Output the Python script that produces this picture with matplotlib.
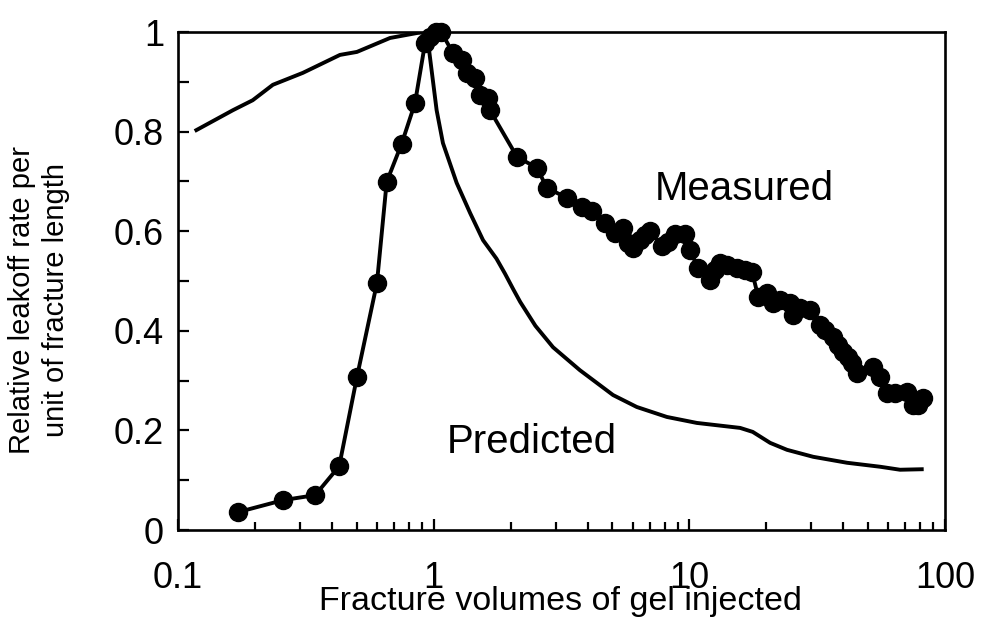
import matplotlib
matplotlib.use("Agg")
import matplotlib.pyplot as plt
from matplotlib.ticker import LogLocator, FixedLocator, NullFormatter, FixedFormatter

plt.rcParams['font.family'] = ['Liberation Sans', 'DejaVu Sans']

# Predicted curve (fracture volumes, relative leakoff rate)
pred_x = [0.118, 0.164, 0.196, 0.235, 0.308, 0.430, 0.501, 0.675, 0.861, 0.94,
          1.027, 1.087, 1.23, 1.39, 1.56, 1.76, 1.90, 2.05, 2.18, 2.5, 2.93, 3.73, 5.03,
          6.23, 8.17, 10.7, 15.8, 17.7, 20.7, 24.1, 30.5, 41.4, 55.8, 66.7, 81.1]
pred_y = [0.803, 0.843, 0.863, 0.894, 0.918, 0.954, 0.960, 0.988, 0.998, 1.0,
          0.843, 0.777, 0.697, 0.636, 0.582, 0.545, 0.515, 0.483, 0.458, 0.410, 0.367, 0.321, 0.271,
          0.247, 0.227, 0.215, 0.205, 0.197, 0.175, 0.161, 0.147, 0.135, 0.127, 0.121, 0.122]

# Measured data
meas_x = [0.172, 0.258, 0.344, 0.427, 0.501, 0.600, 0.655, 0.750, 0.845, 0.925,
          0.97, 1.02, 1.07, 1.19, 1.29, 1.35, 1.45, 1.52, 1.63, 1.66,
          2.12, 2.54, 2.77, 3.32, 3.80, 4.16, 4.68, 5.12, 5.50, 5.75, 6.03,
          6.4, 6.7, 7.02, 7.83, 8.26, 8.80, 9.62, 10.07, 10.8, 12.05, 12.6,
          13.2, 14.1, 15.4, 16.5, 17.6, 18.6, 20.1, 21.2, 22.6, 24.8, 25.4,
          27.2, 29.6, 32.4, 34.0, 36.4, 38.0, 39.9, 41.6, 43.3, 45.2, 52.2,
          55.6, 59.2, 64.0, 70.9, 74.9, 78.4, 82.0]
meas_y = [0.036, 0.060, 0.070, 0.128, 0.307, 0.496, 0.699, 0.776, 0.857, 0.977,
          0.99, 1.0, 1.0, 0.958, 0.944, 0.918, 0.908, 0.873, 0.867, 0.843,
          0.749, 0.727, 0.687, 0.667, 0.648, 0.640, 0.616, 0.596, 0.606, 0.576, 0.566,
          0.582, 0.592, 0.600, 0.570, 0.578, 0.594, 0.594, 0.562, 0.526, 0.502, 0.522,
          0.536, 0.532, 0.526, 0.522, 0.518, 0.468, 0.476, 0.456, 0.462, 0.456, 0.432,
          0.446, 0.442, 0.412, 0.402, 0.388, 0.371, 0.357, 0.347, 0.335, 0.315, 0.327,
          0.307, 0.275, 0.275, 0.277, 0.251, 0.251, 0.265]

x_ticks = [0.1, 1, 10, 100]
x_labels = ['0.1', '1', '10', '100']
y_ticks = [0, 0.2, 0.4, 0.6, 0.8, 1.0]
y_labels = ['0', '0.2', '0.4', '0.6', '0.8', '1']
y_minor = [0.1, 0.3, 0.5, 0.7, 0.9]

fig = plt.figure(figsize=(9.82, 6.19), dpi=100)
ax = fig.add_axes([178/982, 1 - 530/619, (945 - 178)/982, (530 - 32)/619])

ax.plot(pred_x, pred_y, color='black', lw=2.8, solid_joinstyle='round')
ax.plot(meas_x, meas_y, color='black', lw=2.8, marker='o', markersize=13,
        markerfacecolor='black', markeredgecolor='black', clip_on=False)

ax.set_xscale('log')
ax.set_xlim(0.1, 100)
ax.set_ylim(0, 1)

ax.xaxis.set_major_locator(FixedLocator(x_ticks))
ax.xaxis.set_major_formatter(FixedFormatter(x_labels))
ax.xaxis.set_minor_locator(LogLocator(base=10, subs=[2, 3, 4, 5, 6, 7, 8, 9]))
ax.xaxis.set_minor_formatter(NullFormatter())
ax.yaxis.set_major_locator(FixedLocator(y_ticks))
ax.yaxis.set_major_formatter(FixedFormatter(y_labels))
ax.yaxis.set_minor_locator(FixedLocator(y_minor))

ax.tick_params(axis='both', which='both', direction='in', width=1.6,
               top=False, right=False, color='black')
ax.tick_params(axis='x', which='major', length=8, pad=22, labelsize=26)
ax.tick_params(axis='x', which='minor', length=6)
ax.tick_params(axis='y', which='both', length=8, pad=10, labelsize=26)

for s in ax.spines.values():
    s.set_linewidth(1.9)
    s.set_color('black')

ax.text(7.34, 0.663, 'Measured', fontsize=29, ha='left', va='baseline')
ax.text(1.127, 0.155, 'Predicted', fontsize=29, ha='left', va='baseline')

fig.text(560/982, 1 - 610/619, 'Fracture volumes of gel injected', fontsize=24.5,
         ha='center', va='baseline')
fig.text(39/982, 1 - 300/619, 'Relative leakoff rate per\nunit of fracture length',
         fontsize=21, rotation=90, ha='center', va='center', linespacing=1.25)

fig.savefig('out.png', dpi=100, facecolor='white')
